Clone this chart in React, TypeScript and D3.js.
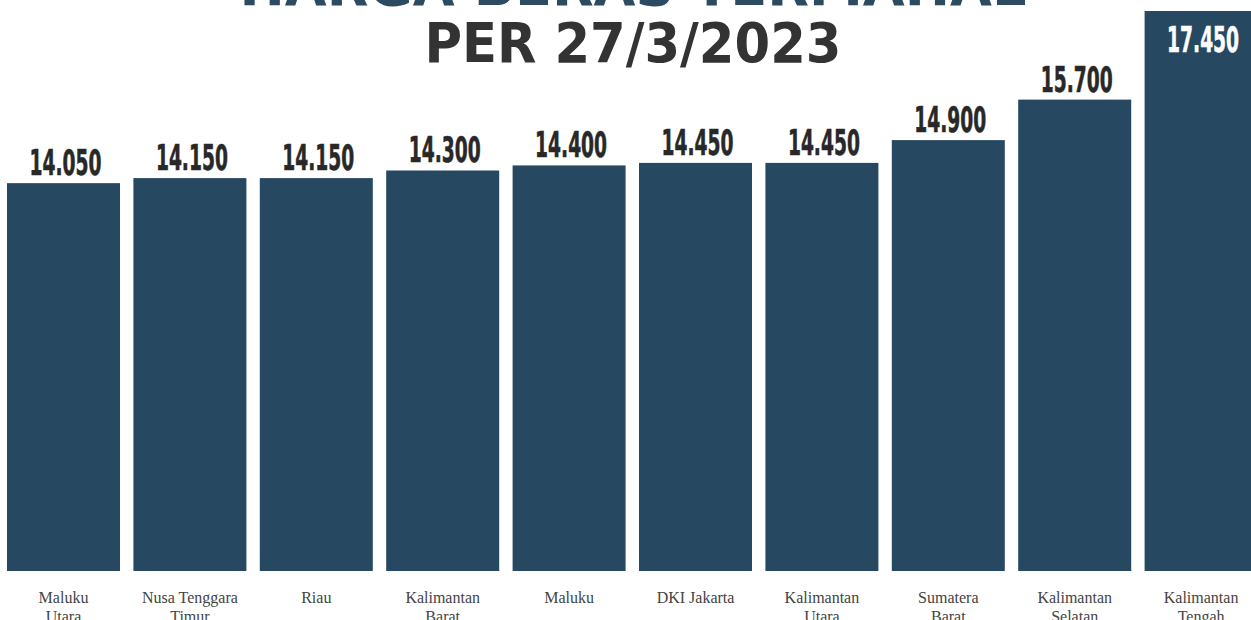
import * as d3 from 'd3';
import { useEffect, useRef } from 'react';

// categories (line breaks mark where the axis label wraps)
const provinces: string[] = [
    "Maluku\nUtara",
    "Nusa Tenggara\nTimur",
    "Riau",
    "Kalimantan\nBarat",
    "Maluku",
    "DKI Jakarta",
    "Kalimantan\nUtara",
    "Sumatera\nBarat",
    "Kalimantan\nSelatan",
    "Kalimantan\nTengah",
];

// harga beras (Rp/kg)
const prices: number[] = [14050, 14150, 14150, 14300, 14400, 14450, 14450, 14900, 15700, 17450];

const titleLines: string[] = ["HARGA BERAS TERMAHAL", "PER 27/3/2023"];

const App = () => {
    const ref = useRef<SVGSVGElement | null>(null);

    useEffect(() => {
        drawChart();
    }, []);

    const drawChart = () => {
        const width: any = 1251;
        const height: any = 620;
        const barColor = '#264860';

        const svg: any = d3.select(ref.current);
        svg.selectAll('*').remove();

        const idLocale = d3.formatLocale({ decimal: ',', thousands: '.', grouping: [3], currency: ['Rp', ''] });
        const fmt = idLocale.format(',');

        const x: any = d3.scaleBand()
            .domain(provinces)
            .range([0.3, 1264.3])
            .paddingInner(0.106)
            .paddingOuter(0.053);

        const y: any = d3.scaleLinear()
            .domain([6390, 17450])
            .range([571, 11]);

        const data = provinces.map((p, i) => ({ name: p, value: prices[i] }));

        // title
        svg.append('text')
            .attr('x', 633)
            .attr('y', 5)
            .attr('text-anchor', 'middle')
            .attr('textLength', 787)
            .attr('lengthAdjust', 'spacingAndGlyphs')
            .style('font-family', '"DejaVu Sans", sans-serif')
            .style('font-weight', 700)
            .style('font-size', '56px')
            .style('fill', '#2c4b60')
            .text(titleLines[0]);

        svg.append('text')
            .attr('x', 633)
            .attr('y', 62)
            .attr('text-anchor', 'middle')
            .attr('textLength', 417)
            .attr('lengthAdjust', 'spacingAndGlyphs')
            .style('font-family', '"DejaVu Sans", sans-serif')
            .style('font-weight', 700)
            .style('font-size', '56px')
            .style('fill', '#333333')
            .text(titleLines[1]);

        // bars
        svg.selectAll('.bar')
            .data(data)
            .enter()
            .append('rect')
            .attr('class', 'bar')
            .attr('x', (d: any) => x(d.name))
            .attr('y', (d: any) => y(d.value))
            .attr('width', x.bandwidth())
            .attr('height', (d: any) => y.range()[0] - y(d.value))
            .attr('fill', barColor);

        // value labels (condensed bold, squeezed to match)
        const labels = svg.selectAll('.val')
            .data(data)
            .enter()
            .append('g')
            .attr('class', 'val')
            .attr('transform', (d: any) => {
                const inside = y(d.value) < 40;
                const ty = inside ? y(d.value) + 41 : y(d.value) - 8;
                return `translate(${x(d.name) + x.bandwidth() / 2 + 2},${ty})`;
            });

        const texts = labels.append('text')
            .attr('text-anchor', 'middle')
            .style('font-family', '"Liberation Sans Narrow", "DejaVu Sans Condensed", sans-serif')
            .style('font-weight', 700)
            .style('font-size', '36px')
            .style('fill', (d: any) => (y(d.value) < 40 ? '#ffffff' : '#282828'))
            .style('stroke', (d: any) => (y(d.value) < 40 ? '#ffffff' : '#282828'))
            .style('stroke-width', 0.6)
            .text((d: any) => fmt(d.value));

        const w0 = (texts.node() as SVGTextElement).getComputedTextLength();
        const sx = w0 > 0 ? 72 / w0 : 1;
        texts.attr('transform', `scale(${sx},1)`);

        // axis labels
        const axisLabels = svg.selectAll('.cat')
            .data(data)
            .enter()
            .append('text')
            .attr('class', 'cat')
            .attr('text-anchor', 'middle')
            .attr('x', (d: any) => x(d.name) + x.bandwidth() / 2)
            .attr('y', 603)
            .style('font-family', '"Liberation Serif", serif')
            .style('font-size', '16px')
            .style('fill', '#444444');

        axisLabels.selectAll('tspan')
            .data((d: any) => d.name.split('\n').map((t: string, i: number) => ({ t, i, cx: x(d.name) + x.bandwidth() / 2 })))
            .enter()
            .append('tspan')
            .attr('x', (d: any) => d.cx)
            .attr('dy', (d: any) => (d.i === 0 ? 0 : 19))
            .text((d: any) => d.t);

        svg.attr('width', width).attr('height', height);
    };

    return (
        <svg
            ref={ref}
            width={1251}
            height={620}
            style={{ position: 'absolute', left: 0, top: 0, background: '#ffffff', display: 'block' }}
        />
    );
};

export default App;
